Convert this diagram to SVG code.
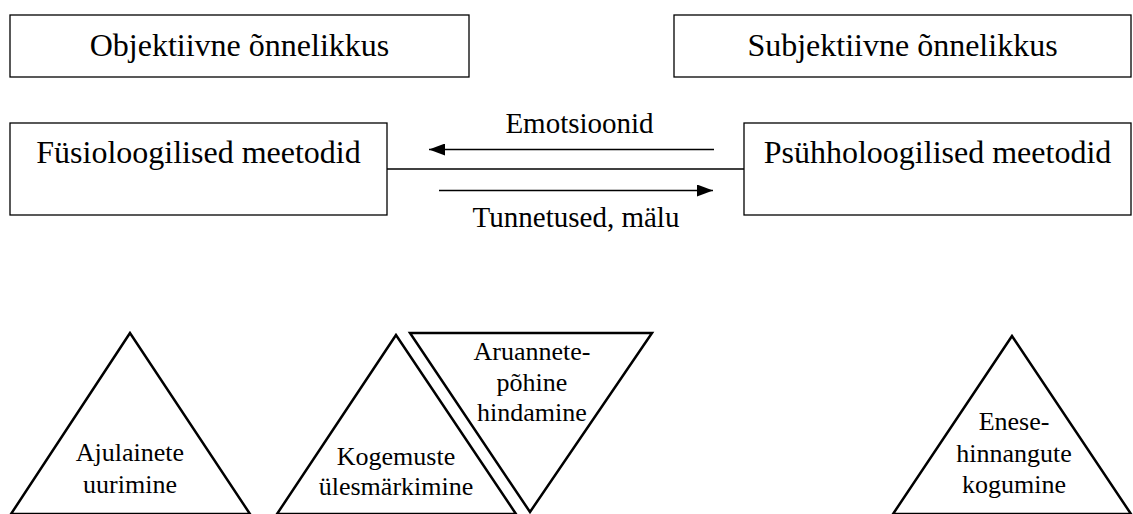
<svg xmlns="http://www.w3.org/2000/svg" width="1133" height="514" viewBox="0 0 1133 514" font-family="'Liberation Serif', 'Times New Roman', Times, serif">
  <style>
    .box { fill: #fff; stroke: #000; stroke-width: 1.3; }
    .tri { fill: #fff; stroke: #000; stroke-width: 2.5; stroke-linejoin: miter; }
    .lbl { font-family: 'Liberation Serif', 'Times New Roman', Times, serif; fill: #000; text-anchor: middle; }
    .big { font-size: 32px; }
    .mid { font-size: 29px; }
    .sm { font-size: 26px; }
    .conn { stroke: #000; stroke-width: 1.3; fill: none; }
  </style>
  <defs>
    <marker id="arrow" viewBox="0 0 16 12" refX="16" refY="6" markerWidth="16" markerHeight="12" markerUnits="userSpaceOnUse" orient="auto">
      <path d="M0,0 L16,6 L0,12 Z" fill="#000"/>
    </marker>
  </defs>

  <g id="objektiivne">
    <rect class="box" x="10" y="15" width="459" height="62"/>
    <text class="lbl big" x="239.5" y="56">Objektiivne õnnelikkus</text>
  </g>
  <g id="subjektiivne">
    <rect class="box" x="674" y="15" width="457" height="62"/>
    <text class="lbl big" x="902.5" y="56">Subjektiivne õnnelikkus</text>
  </g>
  <g id="fusioloogilised">
    <rect class="box" x="10" y="123" width="377" height="92"/>
    <text class="lbl big" x="198.5" y="163">Füsioloogilised meetodid</text>
  </g>
  <g id="psuhholoogilised">
    <rect class="box" x="744" y="123" width="387" height="92"/>
    <text class="lbl big" x="937.5" y="163">Psühholoogilised meetodid</text>
  </g>

  <g id="connectors">
    <line class="conn" x1="387" y1="169" x2="744" y2="169"/>
    <line class="conn" x1="714" y1="149.5" x2="429" y2="149.5" marker-end="url(#arrow)"/>
    <text class="lbl mid" x="579.5" y="133">Emotsioonid</text>
    <line class="conn" x1="439" y1="190.5" x2="713" y2="190.5" marker-end="url(#arrow)"/>
    <text class="lbl mid" x="576" y="227">Tunnetused, mälu</text>
  </g>

  <g id="ajulainete">
    <polygon class="tri" points="130,333 11,514 250,514"/>
    <text class="lbl sm" x="130" y="461">Ajulainete</text>
    <text class="lbl sm" x="130" y="493">uurimine</text>
  </g>
  <g id="kogemuste">
    <polygon class="tri" points="396,335 277,514 516,514"/>
    <text class="lbl sm" x="396" y="465">Kogemuste</text>
    <text class="lbl sm" x="396" y="495">ülesmärkimine</text>
  </g>
  <g id="aruannete">
    <polygon class="tri" points="410,333 652,333 530,512"/>
    <text class="lbl sm" x="532" y="360">Aruannete-</text>
    <text class="lbl sm" x="532" y="391">põhine</text>
    <text class="lbl sm" x="532" y="421">hindamine</text>
  </g>
  <g id="enesehinnangute">
    <polygon class="tri" points="1012,336 893,514 1131,514"/>
    <text class="lbl sm" x="1014" y="430">Enese-</text>
    <text class="lbl sm" x="1014" y="462">hinnangute</text>
    <text class="lbl sm" x="1014" y="493">kogumine</text>
  </g>
</svg>
